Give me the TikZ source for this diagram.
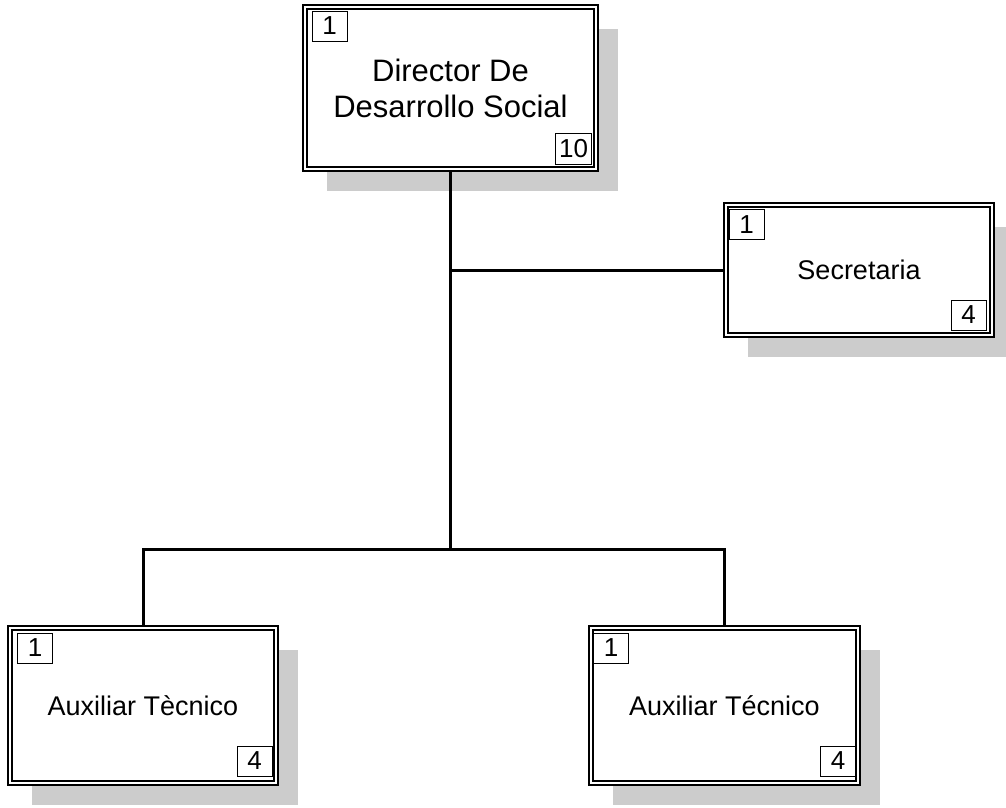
\documentclass[tikz,border=0pt]{standalone}
\usepackage{fontspec}
\setmainfont{Liberation Sans}
\usetikzlibrary{shadows}
\tikzset{
  orgbox/.style={rectangle, draw=black, line width=1.4pt, double=white, double distance=2.6pt,
    fill=white, outer sep=2.8pt, inner sep=0pt, align=center,
    drop shadow={shadow xshift=22pt, shadow yshift=-22pt, fill=black!20, opacity=1}},
  numbox/.style={rectangle, draw=black, line width=0.8pt, fill=white, inner sep=0pt,
    minimum width=35pt, minimum height=30pt, font=\fontsize{26}{28}\selectfont},
  conn/.style={line width=3pt}
}
\begin{document}
\begin{tikzpicture}[x=1pt,y=-1pt]
\useasboundingbox (0,0) rectangle (1006,808);
% boxes
\node[orgbox, minimum width=291pt, minimum height=162pt, font=\fontsize{31}{36}\selectfont] (dir) at (450.5,88) {Director De\\Desarrollo Social};
\node[orgbox, minimum width=266pt, minimum height=130pt, font=\fontsize{27}{30}\selectfont] (sec) at (859,270) {Secretaria};
\node[orgbox, minimum width=266pt, minimum height=155pt, font=\fontsize{27}{30}\selectfont] (aux1) at (143,705.5) {Auxiliar Tècnico};
\node[orgbox, minimum width=267pt, minimum height=155pt, font=\fontsize{27}{30}\selectfont] (aux2) at (724.5,705.5) {Auxiliar Técnico};
% number boxes
\node[numbox] (dir1) at (329.5,26) {1};
\node[numbox, minimum width=36pt, minimum height=31pt] (dir10) at (573.5,148.5) {10};
\node[numbox] (sec1) at (746.5,224.5) {1};
\node[numbox] (sec4) at (968.5,315) {4};
\node[numbox] (aux11) at (35,648) {1};
\node[numbox] (aux14) at (254.5,761) {4};
\node[numbox] (aux21) at (611,648) {1};
\node[numbox] (aux24) at (838,761) {4};
% connectors
\coordinate (j) at (450.5,549);
\draw[conn] (dir.south) -- (j);
\draw[conn] (dir.south |- sec.west) -- (sec.west);
\draw[conn, line cap=rect] (aux1.north) -- (aux1.north |- j) -- (aux2.north |- j) -- (aux2.north);
\end{tikzpicture}
\end{document}
